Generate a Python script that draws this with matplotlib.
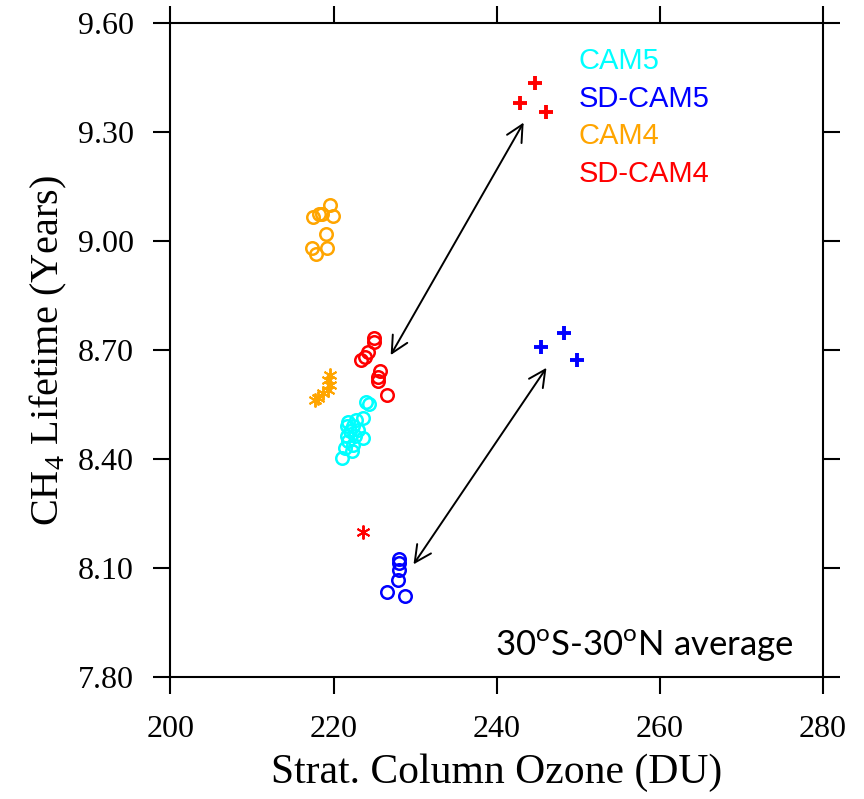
import matplotlib
matplotlib.use("Agg")
import matplotlib.pyplot as plt

plt.rcParams['font.family'] = ['Liberation Serif', 'DejaVu Serif']
plt.rcParams['mathtext.fontset'] = 'custom'
plt.rcParams['mathtext.rm'] = 'Liberation Serif'
plt.rcParams['mathtext.sf'] = 'Lato'

# CAM5 (cyan circles)
cam5_x = [224.0, 224.3, 223.6, 222.8, 221.8, 222.4, 221.6, 223.0, 222.0, 223.6,
          221.6, 222.6, 221.8, 222.4, 221.4, 222.2, 221.0]
cam5_y = [8.558, 8.552, 8.513, 8.506, 8.503, 8.490, 8.490, 8.481, 8.476, 8.458,
          8.462, 8.462, 8.449, 8.439, 8.430, 8.421, 8.403]

# SD-CAM5 (blue circles + blue plus)
sdcam5_x = [228.0, 228.0, 228.0, 227.85, 226.6, 228.7]
sdcam5_y = [8.126, 8.115, 8.094, 8.067, 8.034, 8.023]
sdcam5_plus_x = [248.2, 245.4, 249.9]
sdcam5_plus_y = [8.748, 8.709, 8.673]

# CAM4 (orange circles + orange asterisks)
cam4_x = [219.6, 219.9, 217.5, 218.2, 218.6, 219.1, 219.2, 217.3, 217.8]
cam4_y = [9.098, 9.068, 9.066, 9.073, 9.075, 9.020, 8.982, 8.982, 8.965]
cam4_star_x = [219.5, 219.3, 219.5, 219.3, 218.7, 218.1, 217.7]
cam4_star_y = [8.632, 8.618, 8.604, 8.590, 8.581, 8.568, 8.563]

# SD-CAM4 (red circles + red plus + red asterisk)
sdcam4_x = [225.0, 225.0, 224.25, 223.85, 223.3, 225.7, 225.5, 225.5, 226.6]
sdcam4_y = [8.732, 8.722, 8.695, 8.682, 8.673, 8.641, 8.627, 8.615, 8.577]
sdcam4_plus_x = [244.7, 242.9, 246.0]
sdcam4_plus_y = [9.436, 9.381, 9.354]
sdcam4_star_x = [223.6]
sdcam4_star_y = [8.199]

# arrows (double headed)
arrows = [((227.0, 8.686), (243.3, 9.326)),
          ((229.8, 8.110), (246.1, 8.651))]

legend_names = ['CAM5', 'SD-CAM5', 'CAM4', 'SD-CAM4']
legend_colors = ['#00ffff', '#0000ff', '#ffa500', '#ff0000']

fig = plt.figure(figsize=(8.64, 7.99), dpi=100)
ax = fig.add_axes([0.1973, 0.1527, 0.7552, 0.8185])

circ = dict(marker='o', linestyle='none', markersize=9, markerfacecolor='none', markeredgewidth=1.8)
plus = dict(marker='+', linestyle='none', markersize=10, markeredgewidth=2.8)
star = dict(marker=(6, 2, 0), linestyle='none', markersize=10, markeredgewidth=1.4)

ax.plot(cam5_x, cam5_y, color=legend_colors[0], **circ)
ax.plot(sdcam5_x, sdcam5_y, color=legend_colors[1], **circ)
ax.plot(sdcam5_plus_x, sdcam5_plus_y, color=legend_colors[1], **plus)
ax.plot(cam4_x, cam4_y, color=legend_colors[2], **circ)
ax.plot(cam4_star_x, cam4_star_y, color=legend_colors[2], **star)
ax.plot(sdcam4_x, sdcam4_y, color=legend_colors[3], **circ)
ax.plot(sdcam4_plus_x, sdcam4_plus_y, color=legend_colors[3], **plus)
ax.plot(sdcam4_star_x, sdcam4_star_y, color=legend_colors[3], **star)

for a, b in arrows:
    ax.annotate('', xy=b, xytext=a,
                arrowprops=dict(arrowstyle='<->', lw=1.4, color='black',
                                mutation_scale=30, shrinkA=0, shrinkB=0))

for i, (name, c) in enumerate(zip(legend_names, legend_colors)):
    ax.text(0.626, 0.942 - i * 0.0575, name, color=c, transform=ax.transAxes,
            fontsize=21, family=['Liberation Sans'], va='center', ha='left')

ax.text(0.955, 0.048, r'30$^{\mathsf{o}}$S-30$^{\mathsf{o}}$N average',
        transform=ax.transAxes, ha='right', va='center', fontsize=25,
        family=['Lato'])

ax.set_xlim(200, 280)
ax.set_ylim(7.80, 9.60)
ax.set_xticks([200, 220, 240, 260, 280])
ax.set_yticks([7.80, 8.10, 8.40, 8.70, 9.00, 9.30, 9.60])
ax.set_yticklabels(['%.2f' % v for v in ax.get_yticks()])
ax.tick_params(direction='out', length=12.5, width=1.5, labelsize=23,
               top=True, right=True, pad=14)
ax.tick_params(axis='x', pad=15)
for s in ax.spines.values():
    s.set_linewidth(1.5)

ax.set_xlabel('Strat. Column Ozone (DU)', fontsize=30, labelpad=7)
ax.set_ylabel('CH$_4$ Lifetime (Years)', fontsize=29, labelpad=6)

fig.savefig('out.png', dpi=100)
